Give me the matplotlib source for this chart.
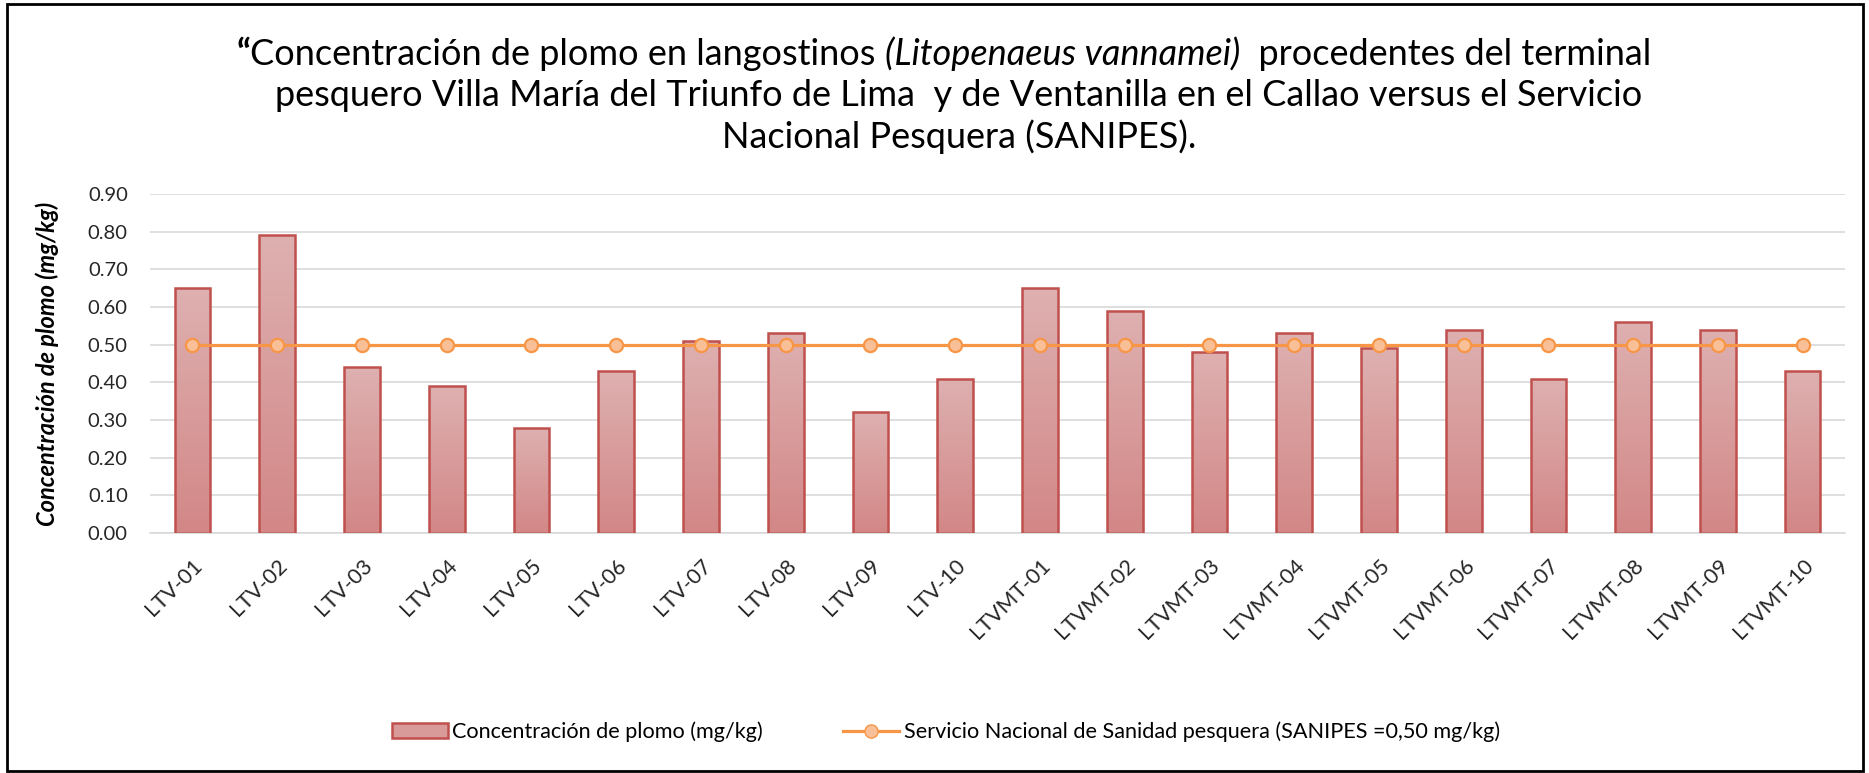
import numpy as np
import matplotlib.pyplot as plt
from matplotlib.patches import Rectangle
from matplotlib.lines import Line2D
from matplotlib.colors import LinearSegmentedColormap

plt.rcParams['font.family'] = ['Lato', 'DejaVu Sans']

muestras = ['LTV-01', 'LTV-02', 'LTV-03', 'LTV-04', 'LTV-05', 'LTV-06', 'LTV-07',
            'LTV-08', 'LTV-09', 'LTV-10', 'LTVMT-01', 'LTVMT-02', 'LTVMT-03',
            'LTVMT-04', 'LTVMT-05', 'LTVMT-06', 'LTVMT-07', 'LTVMT-08', 'LTVMT-09',
            'LTVMT-10']
plomo = [0.65, 0.79, 0.44, 0.39, 0.28, 0.43, 0.51, 0.53, 0.32, 0.41,
         0.65, 0.59, 0.48, 0.53, 0.49, 0.54, 0.41, 0.56, 0.54, 0.43]
sanipes = [0.50] * 20
yticks = [0.0, 0.1, 0.2, 0.3, 0.4, 0.5, 0.6, 0.7, 0.8, 0.9]

fig = plt.figure(figsize=(18.69, 7.73), dpi=100)
ax = fig.add_axes([0.0803, 0.3105, 0.9069, 0.4386])

x = np.arange(len(muestras))
bars = ax.bar(x, plomo, width=0.42, color='none', edgecolor='#C0504D', linewidth=1.8, zorder=3)
grad = LinearSegmentedColormap.from_list('g', ['#D38787', '#DEB0B0'])
for b in bars:
    x0, y0 = b.get_x(), b.get_y()
    im = ax.imshow(np.linspace(0, 1, 100).reshape(-1, 1), cmap=grad, origin='lower',
                   extent=[x0, x0 + b.get_width(), y0, y0 + b.get_height()],
                   aspect='auto', zorder=2)
    im.set_clip_path(b)

ax.plot(x, sanipes, color='#F79646', lw=2.3, marker='o', markersize=9.5,
        markerfacecolor='#F9BF96', markeredgecolor='#F79646', markeredgewidth=1.6, zorder=4)

ax.set_xlim(-0.5, len(muestras) - 0.5)
ax.set_ylim(0, 0.9)
ax.set_yticks(yticks)
ax.set_yticklabels(['%.2f' % v for v in yticks], fontsize=14.5)
ax.set_xticks(x)
ax.set_xticklabels(muestras, rotation=45, ha='right', rotation_mode='anchor', fontsize=15.5)
ax.tick_params(axis='both', length=0, colors='#262626')
ax.tick_params(axis='y', pad=16)
ax.tick_params(axis='x', pad=16)
ax.grid(axis='y', color='#D9D9D9', lw=1.2, zorder=0)
for s in ['top', 'right', 'left']:
    ax.spines[s].set_visible(False)
ax.spines['bottom'].set_color('#D9D9D9')
ax.spines['bottom'].set_linewidth(1.2)
ax.set_ylabel('Concentración de plomo (mg/kg)', fontsize=17, fontweight='bold',
              fontstyle='italic')
ax.yaxis.set_label_coords(-0.054, 0.5)

# title with mixed styles
fig.canvas.draw()
renderer = fig.canvas.get_renderer()
titulo = [
    [('\u201c', 'normal', 'bold'), ('Concentración de plomo en langostinos ', 'normal', 'normal'),
     ('(Litopenaeus vannamei)', 'italic', 'normal'), ('  procedentes del terminal', 'normal', 'normal')],
    [('pesquero Villa María del Triunfo de Lima  y de Ventanilla en el Callao versus el Servicio', 'normal', 'normal')],
    [('Nacional Pesquera (SANIPES).', 'normal', 'normal')],
]
ys = [0.930, 0.877, 0.823]
cx = [0.505, 0.513, 0.513]
for linea, yy, c in zip(titulo, ys, cx):
    objs = [fig.text(0, yy, t, fontsize=26, fontstyle=st, fontweight=wt, va='center')
            for t, st, wt in linea]
    ws = [o.get_window_extent(renderer).width / fig.bbox.width for o in objs]
    xx = c - sum(ws) / 2
    for o, w in zip(objs, ws):
        o.set_x(xx)
        xx += w

handles = [Rectangle((0, 0), 1, 1, facecolor='#D99A9A', edgecolor='#C0504D', lw=1.8),
           Line2D([], [], color='#F79646', lw=2.3, marker='o', markersize=9.5,
                  markerfacecolor='#F9BF96', markeredgecolor='#F79646')]
fig.legend(handles, ['Concentración de plomo (mg/kg)',
                     'Servicio Nacional de Sanidad pesquera (SANIPES =0,50 mg/kg)'],
           loc='center', bbox_to_anchor=(0.506, 0.053), ncol=2, frameon=False,
           fontsize=15.6, handlelength=2.6, handletextpad=0.2, columnspacing=3.7)

fig.add_artist(Rectangle((0.004, 0.003), 0.993, 0.992, transform=fig.transFigure,
                         fill=False, edgecolor='black', lw=2))

fig.savefig('out.png', dpi=100)
